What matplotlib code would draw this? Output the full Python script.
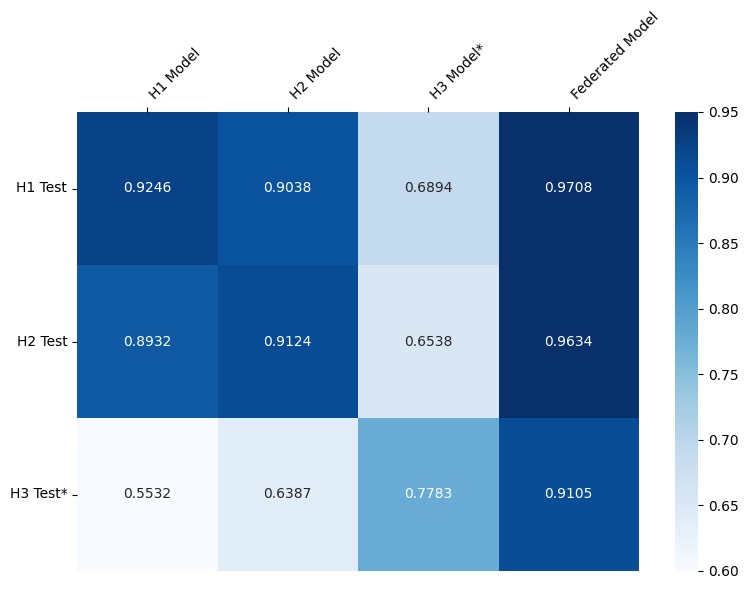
import matplotlib
matplotlib.use("Agg")
import matplotlib.pyplot as plt
import seaborn as sns
import numpy as np

models = ["H1 Model", "H2 Model", "H3 Model*", "Federated Model"]
tests = ["H1 Test", "H2 Test", "H3 Test*"]
values = [
    [0.9246, 0.9038, 0.6894, 0.9708],
    [0.8932, 0.9124, 0.6538, 0.9634],
    [0.5532, 0.6387, 0.7783, 0.9105],
]

fig = plt.figure(figsize=(7.48, 5.9), dpi=100)
ax = fig.add_axes([77/748, 1-571/590, (639-77)/748, (571-112)/590])
cax = fig.add_axes([675/748, 1-571/590, (698-675)/748, (571-112)/590])
sns.heatmap(np.array(values), annot=True, fmt=".4f", cmap="Blues", vmin=0.6, vmax=0.95,
            xticklabels=models, yticklabels=tests, ax=ax, cbar_ax=cax)
ax.xaxis.tick_top()
ax.set_xticklabels(models, rotation=45, ha="left")
ax.set_yticklabels(tests, rotation=0)
cax.set_yticks([0.60, 0.65, 0.70, 0.75, 0.80, 0.85, 0.90, 0.95])
cax.set_yticklabels(["0.60", "0.65", "0.70", "0.75", "0.80", "0.85", "0.90", "0.95"])
fig.savefig("out.png", dpi=100)
